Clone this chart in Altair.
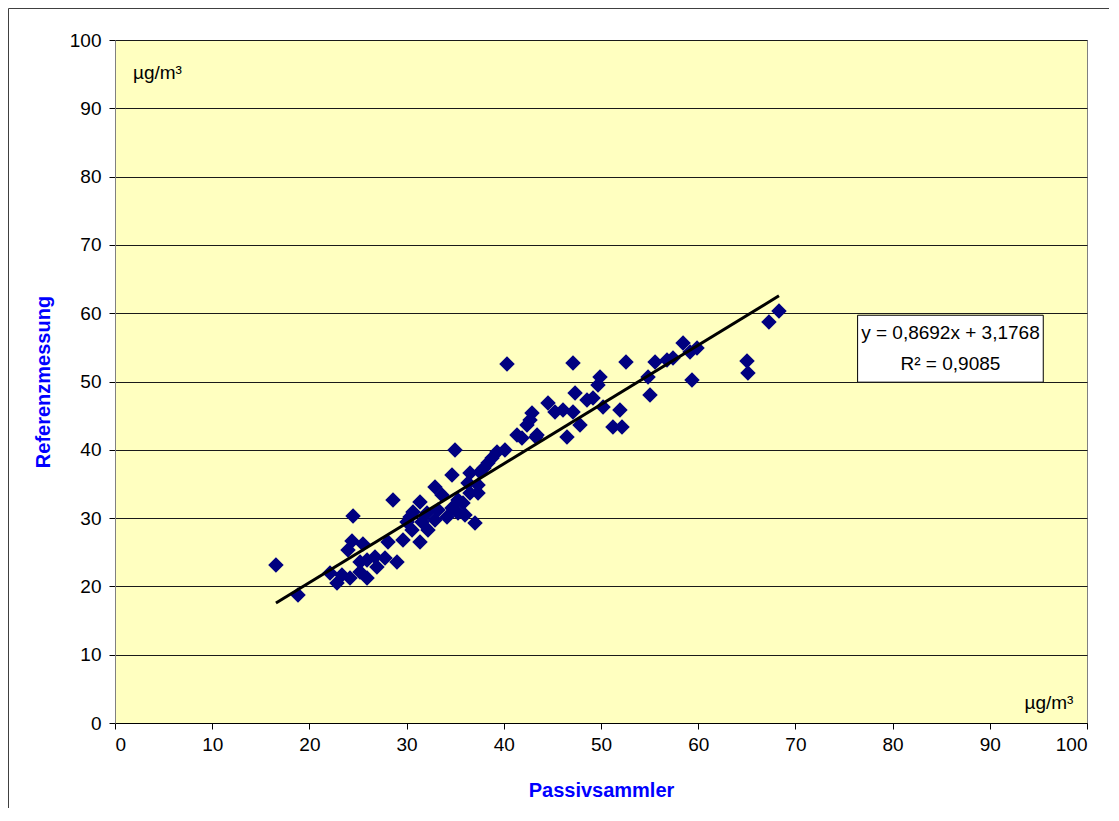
import altair as alt
import pandas as pd

# Passivsammler (x) vs Referenzmessung (y), µg/m³
passiv = [16.56, 18.83, 22.12, 22.84, 23.35, 24.18, 25.21, 25.93, 23.97, 24.38,
          25.51, 24.49, 25.21, 25.93, 26.95, 26.75, 27.78, 29.01, 28.09, 28.60,
          29.63, 30.56, 30.04, 31.38, 32.20, 30.66, 31.58, 32.10, 31.38, 32.92,
          33.23, 32.92, 33.64, 34.16, 34.67, 35.29, 35.29, 36.01, 35.80, 37.04,
          36.52, 37.35, 34.67, 36.52, 37.55, 34.98, 36.32, 37.35, 37.96, 38.37,
          38.79, 39.30, 40.12, 41.36, 41.87, 42.39, 42.90, 42.70, 43.31, 43.42,
          40.33, 44.55, 45.27, 46.09, 47.12, 47.33, 47.84, 46.50, 48.56, 49.18,
          49.69, 49.90, 50.21, 47.12, 51.23, 52.16, 51.95, 52.57, 54.84, 55.04,
          55.56, 56.79, 57.41, 58.44, 59.16, 59.88, 59.36, 65.02, 65.12, 67.28,
          68.31, 30.35]
referenz = [23.13, 18.74, 21.96, 20.50, 21.67, 21.23, 22.11, 21.23, 25.33, 26.65,
            26.21, 30.31, 23.57, 23.87, 22.84, 24.30, 24.16, 23.57, 26.50, 32.65,
            26.79, 28.26, 29.43, 26.50, 28.26, 30.89, 29.43, 30.75, 32.36, 29.72,
            31.19, 34.55, 33.38, 30.16, 31.48, 30.75, 32.65, 30.45, 32.21, 29.28,
            33.67, 33.67, 36.31, 36.60, 36.75, 39.97, 35.14, 34.85, 37.34, 38.07,
            38.80, 39.68, 39.97, 42.17, 41.73, 43.63, 45.39, 44.36, 41.87, 42.17,
            52.56, 46.85, 45.53, 45.83, 45.53, 48.32, 43.63, 41.87, 47.29, 47.58,
            49.49, 50.66, 46.27, 52.71, 43.34, 43.34, 45.83, 52.86, 50.66, 48.02,
            52.86, 53.15, 53.44, 55.64, 54.32, 54.90, 50.22, 53.00, 51.24, 58.71,
            60.32, 30.16]

slope = 0.8692
intercept = 3.1768
eq_lines = ["y = 0,8692x + 3,1768", "R² = 0,9085"]
unit_label = "µg/m³"
ticks = list(range(0, 101, 10))

FONT = "Liberation Sans"
LBL = 19
TTL = 20

pts = pd.DataFrame({"x": passiv, "y": referenz})
xmin, xmax = min(passiv), max(passiv)
trend = pd.DataFrame({"x": [xmin, xmax],
                      "y": [slope * xmin + intercept, slope * xmax + intercept]})

xscale = alt.Scale(domain=[0, 100], nice=False, zero=False)
yscale = alt.Scale(domain=[0, 100], nice=False, zero=False)

xaxis = alt.Axis(values=ticks, title="Passivsammler", grid=False,
                 labelFont=FONT, labelFontSize=LBL, labelColor="black",
                 titleFont=FONT, titleFontSize=TTL, titleFontWeight="bold",
                 titleColor="#0000FF", titlePadding=26,
                 domainColor="black", tickColor="black", tickSize=6,
                 labelPadding=6)
yaxis = alt.Axis(values=ticks, title="Referenzmessung", grid=True,
                 gridColor="#1a1a1a", gridWidth=1,
                 labelFont=FONT, labelFontSize=LBL, labelColor="black",
                 titleFont=FONT, titleFontSize=TTL, titleFontWeight="bold",
                 titleColor="#0000FF", titlePadding=16,
                 domainColor="#808080", tickColor="black", tickSize=6,
                 labelPadding=8)

base = alt.Chart(pts)

points = base.mark_point(shape="diamond", filled=True, size=240,
                         color="#000080", opacity=1).encode(
    x=alt.X("x:Q", scale=xscale, axis=xaxis),
    y=alt.Y("y:Q", scale=yscale, axis=yaxis),
)

line = alt.Chart(trend).mark_line(color="black", strokeWidth=3).encode(
    x=alt.X("x:Q", scale=xscale), y=alt.Y("y:Q", scale=yscale))

box_df = pd.DataFrame({"x": [76.4], "x2": [95.5], "y": [49.9], "y2": [59.7]})
box = alt.Chart(box_df).mark_rect(fill="white", stroke="black",
                                  strokeWidth=1).encode(
    x=alt.X("x:Q", scale=xscale), x2="x2:Q",
    y=alt.Y("y:Q", scale=yscale), y2="y2:Q")

eq_df = pd.DataFrame({"x": [85.95, 85.95], "y": [57.1, 52.6], "t": eq_lines})
eq_text = alt.Chart(eq_df).mark_text(font=FONT, fontSize=LBL, color="black",
                                     align="center", baseline="middle").encode(
    x=alt.X("x:Q", scale=xscale), y=alt.Y("y:Q", scale=yscale), text="t:N")

unit_top = alt.Chart(pd.DataFrame({"x": [1.85], "y": [95.2], "t": [unit_label]})).mark_text(
    font=FONT, fontSize=LBL, color="black", align="left", baseline="middle").encode(
    x=alt.X("x:Q", scale=xscale), y=alt.Y("y:Q", scale=yscale), text="t:N")

unit_bottom = alt.Chart(pd.DataFrame({"x": [98.6], "y": [2.9], "t": [unit_label]})).mark_text(
    font=FONT, fontSize=LBL, color="black", align="right", baseline="middle").encode(
    x=alt.X("x:Q", scale=xscale), y=alt.Y("y:Q", scale=yscale), text="t:N")

# outer chart frame (left and top edges)
frame_left = alt.Chart(pd.DataFrame({"a": [0]})).mark_rule(
    color="#404040", strokeWidth=1, clip=False).encode(
    x=alt.value(-106.5), y=alt.value(-31.5), y2=alt.value(800))
frame_top = alt.Chart(pd.DataFrame({"a": [0]})).mark_rule(
    color="#404040", strokeWidth=1, clip=False).encode(
    x=alt.value(-106.5), x2=alt.value(1010), y=alt.value(-31.5))

chart = alt.layer(points, line, box, eq_text, unit_top, unit_bottom,
                  frame_left, frame_top).properties(
    width=972, height=683,
    autosize=alt.AutoSizeParams(type="none"),
    padding={"left": 107, "top": 32, "right": 22, "bottom": 85},
    background="white",
).configure_view(
    fill="#FFFFC0", stroke="#808080", strokeWidth=1
)

chart.save("out.html", embed_options={"renderer": "svg", "actions": False})
